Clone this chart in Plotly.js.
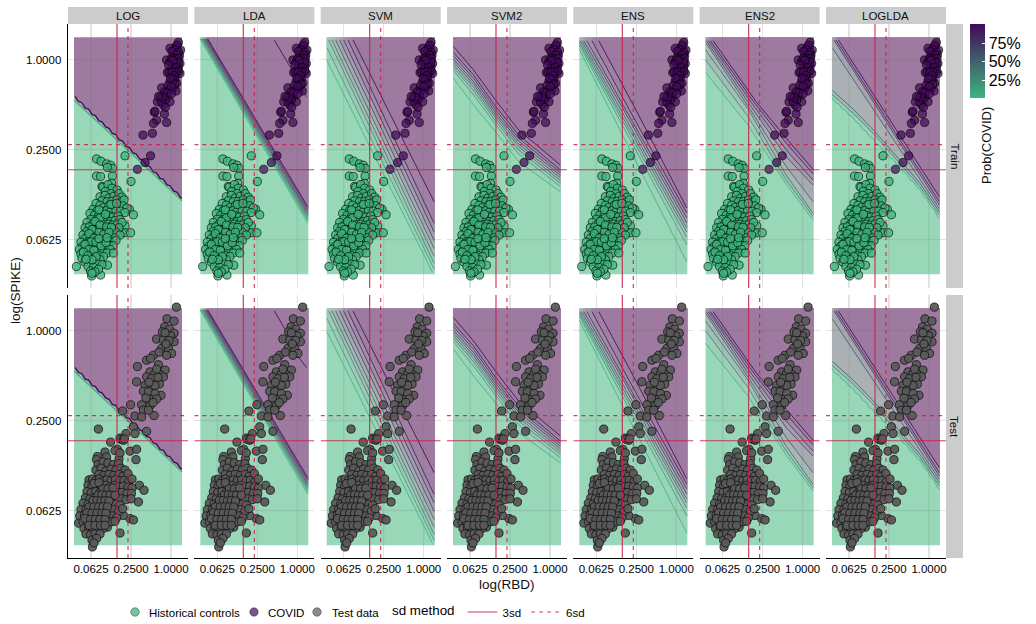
<!DOCTYPE html>
<html><head><meta charset="utf-8">
<script src="https://cdn.plot.ly/plotly-3.0.1.min.js"></script>
<style>html,body{margin:0;padding:0;background:#fff}</style></head>
<body><div id="chart" style="width:1036px;height:624px"></div>
<script>
const methodNames=['LOG','LDA','SVM','SVM2','ENS','ENS2','LOGLDA'];
const rowNames=['Train','Test'];
const tickVals=[-4,-2,0];
const tickLabels=['0.0625','0.2500','1.0000'];
const colorTicks=[0.25,0.5,0.75];
const colorTickLabels=['25%','50%','75%'];
const sd3={rbd:-2.7,spike:-2.45};
const sd6={rbd:-2.15,spike:-1.89};
const tileRbd=[-4.85,0.55];
const tileSpike=[-4.77,0.49];

const logWave=[[-4.8,-.82],[-4.63,-.93],[-4.46,-.96],[-4.29,-1.08],[-4.12,-1.1],[-3.95,-1.22],[-3.78,-1.245],[-3.61,-1.36],[-3.44,-1.39],[-3.27,-1.5],[-3.1,-1.53],[-2.93,-1.645],[-2.76,-1.67],[-2.59,-1.785],[-2.42,-1.815],[-2.25,-1.93],[-2.08,-1.955],[-1.91,-2.07],[-1.74,-2.1],[-1.57,-2.21],[-1.4,-2.24],[-1.23,-2.355],[-1.06,-2.38],[-.89,-2.495],[-.72,-2.525],[-.55,-2.64],[-.38,-2.665],[-.21,-2.78],[-.04,-2.81],[.13,-2.92],[.3,-2.95],[.47,-3.065],[.55,-3.08]];
const logLevels=[0,1];
const logContours=[[[-4.85,-.9],[.55,-3.14]],logWave];
const ldaLevels=[0,.14,.28,.43,.57,.71,.86,1];
const ldaContours=[
[[-4.87,.46],[.52,-3.64]],[[-4.81,.46],[.52,-3.58]],[[-4.76,.46],[.52,-3.53]],[[-4.7,.46],[.52,-3.48]],
[[-4.65,.46],[.52,-3.43]],[[-4.59,.46],[.52,-3.38]],[[-4.53,.46],[.52,-3.32]],[[-4.48,.46],[.52,-3.27]]];
const ldaOuterContour=[[-1.15,.433],[-.98,.3],[-.817,.174],[-.62,.02],[-.317,-.196],[-.1,-.5],[.467,-.826]];
const svmLevels=[0,.13,.25,.38,.5,.63,.75,.88,1];
const svmContours=[
[[-4.83,-.03],[.43,-4.72]],[[-4.83,.26],[.52,-4.66]],[[-4.75,.433],[.52,-4.53]],[[-4.58,.433],[.52,-4.37]],
[[-4.4,.433],[.52,-4.2]],[[-4.2,.433],[.52,-4.02]],[[-4,.433],[.52,-3.83]],[[-3.78,.433],[.52,-3.64]],[[-3.53,.433],[.52,-3.16]]];
const svm2Levels=[0,.13,.25,.38,.5,.63,.75,.88,1];
const svm2Contours=[
[[-4.82,-.419],[-3.82,-1.012],[-2.73,-1.604],[-1.57,-2.271],[.52,-2.938]],
[[-4.82,-.249],[-3.82,-.789],[-2.73,-1.441],[-1.57,-2.1],[.52,-2.826]],
[[-4.82,-.175],[-3.82,-.693],[-2.73,-1.36],[-1.57,-2.012],[.52,-2.752]],
[[-4.82,-.115],[-3.82,-.619],[-2.73,-1.293],[-1.57,-1.938],[.52,-2.693]],
[[-4.82,-.056],[-3.82,-.552],[-2.73,-1.234],[-1.57,-1.878],[.52,-2.634]],
[[-4.82,.003],[-3.82,-.493],[-2.73,-1.175],[-1.57,-1.812],[.52,-2.575]],
[[-4.82,.077],[-3.82,-.419],[-2.73,-1.108],[-1.57,-1.752],[.52,-2.515]],
[[-4.82,.151],[-3.82,-.345],[-2.73,-1.034],[-1.57,-1.678],[.52,-2.456]],
[[-4.82,.285],[-3.82,-.234],[-2.73,-.9],[-1.57,-1.567],[.52,-2.345]]];
const ensLevels=[0,.13,.25,.38,.5,.63,.75,.88,1];
const ensContours=[
[[-4.85,.226],[.52,-4.5]],[[-4.85,.32],[.52,-4.12]],[[-4.85,.38],[.52,-3.95]],[[-4.82,.42],[.52,-3.83]],
[[-4.73,.42],[-2.77,-1.12],[.52,-3.74]],[[-4.63,.42],[-2.63,-1.12],[.52,-3.63]],[[-4.48,.42],[-2.52,-1.12],[.52,-3.52]],
[[-4.22,.42],[-2.35,-1.12],[.52,-3.41]],[[-3.88,.42],[-2.02,-1.12],[.52,-3.3]]];
const ens2Levels=[0,.25,.38,.5,.63,.75,.88,1];
const ens2Contours=[
[[-4.85,-.29],[-2.73,-1.46],[-.82,-2.77],[.52,-3.57]],
[[-4.85,-.01],[-2.73,-1.27],[-.82,-2.68],[.52,-3.49]],
[[-4.85,.21],[-2.7,-1.12],[-.82,-2.57],[.52,-3.42]],
[[-4.82,.36],[-2.65,-1.09],[-.82,-2.38],[.52,-3.16]],
[[-4.82,.42],[-2.57,-1.05],[-.82,-2.16],[.52,-2.79]],
[[-4.72,.42],[-2.48,-1.01],[-.82,-2.01],[.52,-2.68]],
[[-4.62,.42],[-2.4,-.97],[-.82,-1.86],[.52,-2.54]],
[[-4.48,.42],[-2.32,-.94],[-.82,-1.75],[.52,-2.44]]];
const loglWave=[[-4.85,-.843],[-4.68,-.954],[-4.51,-.985],[-4.34,-1.097],[-4.17,-1.127],[-4,-1.24],[-3.83,-1.27],[-3.66,-1.385],[-3.49,-1.427],[-3.32,-1.55],[-3.15,-1.59],[-2.98,-1.712],[-2.81,-1.754],[-2.64,-1.873],[-2.47,-1.909],[-2.3,-2.025],[-2.13,-2.061],[-1.96,-2.178],[-1.79,-2.214],[-1.62,-2.33],[-1.45,-2.376],[-1.28,-2.501],[-1.11,-2.547],[-.94,-2.672],[-.77,-2.718],[-.6,-2.844],[-.43,-2.893],[-.26,-3.044],[-.09,-3.114],[.08,-3.265],[.25,-3.335],[.42,-3.485],[.52,-3.53]];
const loglLevels=[0,.3,.48,.52,.7,.85,1];
const loglContours=[
loglWave,
[[-4.85,-.774],[-3.78,-1.197],[-2.7,-1.678],[-1.62,-2.233],[-.45,-2.826],[.52,-3.456]],
[[-4.82,-.693],[-3.78,-1.108],[-2.7,-1.604],[-1.62,-2.159],[-.45,-2.752],[.52,-3.382]],
[[-4.82,.248],[.52,-3.31]],[[-4.75,.433],[.52,-3.234]],[[-4.65,.433],[.52,-3.16]],[[-4.53,.433],[.52,-3.05]]];
const allContours=[logContours,ldaContours,svmContours,svm2Contours,ensContours,ens2Contours,loglContours];
const allLevels=[logLevels,ldaLevels,svmLevels,svm2Levels,ensLevels,ens2Levels,loglLevels];

const covidPoints=[[.37,.38],[.25,.28],[-.05,.25],[.48,.21],[.12,.14],[.42,.1],[-.22,-.01],[.12,.06],[.28,-.01],[-.05,-.05],[.45,-.09],[.12,-.12],[.03,-.2],[.37,-.16],[-.18,-.29],[.12,-.29],[.45,-.31],[.03,-.33],[.28,-.27],[-.05,-.49],[.28,-.53],[.2,-.42],[-.47,-.63],[-.13,-.68],[.12,-.63],[.25,-.7],[-.18,-.83],[-.52,-.83],[-.68,-.94],[-.38,-1.01],[-.05,-.94],[-.3,-.9],[-.47,-.94],[-.83,-1.17],[-.8,-1.15],[-.33,-1.21],[-.72,-1.35],[-.88,-1.42],[-.22,-1.4],[-.93,-1.64],[-1.4,-1.68],[-1.02,-2.14],[-1.3,-2.29],[-1.68,-2.44],
[.3,.32],[.18,.22],[.38,.16],[.05,.18],[.3,.1],[.2,.02],[.4,.02],[.02,.02],[.22,-.08],[.36,-.06],[.1,-.02],[-.12,-.12],[.25,-.18],[.38,-.26],[.2,-.28],[-.1,-.28],[.05,-.28],[.15,-.36],[.1,-.44],[-.02,-.42],[-.15,-.58],[.18,-.55],[.02,-.6],[-.32,-.72],[-.2,-.74],[.02,-.76],[-.42,-.84],[-.62,-.82],[-.28,-1.06]];
const controlPoints=[[-2.3,-2.14],[-2,-2.71],[-3.72,-2.21],[-3.5,-2.26],[-3.22,-2.32],[-3.02,-2.35],[-2.92,-2.42],[-3.18,-2.4],[-3.72,-2.59],[-3.52,-2.6],[-2.93,-2.59],[-2.97,-2.75],[-3.45,-2.82],[-2.08,-3.33],[-1.88,-3.45],[-2.3,-3.7],[-2.47,-3.85],[-2.3,-3.85],[-2.02,-3.85],[-3.18,-4.57],[-3.52,-4.79],[-3.97,-4.81],[-4.73,-4.6],
[-3.4,-2.84],[-3.15,-2.78],[-2.95,-2.86],[-2.7,-2.9],[-3.28,-2.93],[-3.02,-2.98],
[-3.55,-3.05],[-3.3,-3.02],[-3.1,-3.08],[-2.85,-3.04],[-2.6,-2.98],[-2.45,-3.06],[-3.45,-3.14],[-3.2,-3.16],[-2.95,-3.15],[-2.7,-3.12],[-2.5,-3.17],[-2.35,-3.12],
[-3.75,-3.2],[-3.55,-3.24],[-3.35,-3.28],[-3.1,-3.25],[-2.85,-3.26],[-2.62,-3.27],[-2.4,-3.25],[-2.2,-3.3],[-3.9,-3.33],[-3.7,-3.36],[-3.45,-3.38],[-3.22,-3.36],[-3,-3.38],[-2.75,-3.35],[-2.52,-3.37],[-2.3,-3.4],
[-4.05,-3.42],[-3.82,-3.46],[-3.6,-3.47],[-3.35,-3.5],[-3.12,-3.47],[-2.9,-3.5],[-2.65,-3.48],[-4,-3.55],[-3.72,-3.56],[-3.48,-3.58],[-3.25,-3.57],[-3.02,-3.6],[-2.8,-3.58],[-2.55,-3.56],[-4.2,-3.62],[-3.92,-3.66],[-3.66,-3.64],[-3.4,-3.67],[-3.15,-3.66],[-2.92,-3.68],[-2.68,-3.66],[-2.45,-3.62],
[-4.3,-3.74],[-4.08,-3.72],[-3.85,-3.76],[-3.6,-3.72],[-3.35,-3.76],[-3.1,-3.74],[-2.85,-3.77],[-2.6,-3.74],[-4.2,-3.82],[-3.96,-3.84],[-3.72,-3.8],[-3.48,-3.84],[-3.22,-3.83],[-3,-3.86],[-2.75,-3.84],[-2.55,-3.9],
[-4.4,-3.9],[-4.16,-3.93],[-3.9,-3.92],[-3.62,-3.94],[-3.38,-3.92],[-3.12,-3.94],[-2.88,-3.96],[-4.3,-3.98],[-4.05,-4],[-3.78,-4.02],[-3.52,-4],[-3.26,-4.03],[-3,-4.04],[-2.75,-4.02],
[-4.5,-4.06],[-4.24,-4.08],[-3.98,-4.1],[-3.7,-4.1],[-3.42,-4.1],[-3.15,-4.12],[-2.9,-4.14],[-4.42,-4.15],[-4.16,-4.17],[-3.88,-4.18],[-3.6,-4.18],[-3.32,-4.2],[-3.05,-4.22],
[-4.58,-4.22],[-4.32,-4.24],[-4.06,-4.26],[-3.76,-4.26],[-3.48,-4.27],[-3.2,-4.3],[-2.88,-4.3],[-4.5,-4.32],[-4.22,-4.33],[-3.95,-4.34],[-3.65,-4.35],[-3.38,-4.38],
[-4.45,-4.42],[-4.15,-4.42],[-3.85,-4.43],[-3.55,-4.45],[-4.3,-4.5],[-4.02,-4.5],[-3.72,-4.52],[-3.45,-4.56],[-4.15,-4.6],[-3.88,-4.62],[-3.62,-4.66],[-4.02,-4.7],[-3.8,-4.72],[-3.95,-4.75],
[-3.6,-3.34],[-3,-3.22],[-2.72,-3.2],[-3.55,-3.52],[-3.28,-3.44],[-3.8,-3.6],[-3.55,-3.68],[-3.22,-3.72],[-2.98,-3.73],[-3.95,-3.78],[-3.6,-3.84],[-3.35,-3.88],[-3.1,-3.84],[-4.1,-3.87],[-3.85,-3.97],[-4,-4.05],[-3.75,-4.06],[-3.5,-4.14],[-3.25,-4.07],[-4.3,-4.11],[-4.1,-4.22],[-3.85,-4.24],[-4.38,-4.28],[-4.15,-4.36],[-3.75,-4.38],[-3.95,-4.45],[-4.25,-4.44],[-3.6,-3.98],[-3.2,-3.96]];
const testPoints=[[.27,.52],[-.2,.26],[.15,.21],[-.32,.08],[-.08,.03],[-.43,-.03],[.15,-.06],[-.22,-.09],[-.02,-.12],[-.72,-.19],[-.38,-.21],[.15,-.25],[-.47,-.4],[-.13,-.4],[-.88,-.55],[.03,-.51],[-1.22,-.66],[-1.02,-.62],[-.22,-.55],[-.63,-.76],[-1.68,-.8],[-.3,-.88],[-1.05,-.92],[-.8,-.96],[-.55,-.98],[-1.22,-1.03],[-.97,-1.07],[-.38,-1.03],[-1.72,-1.14],[-.58,-1.19],[-1.3,-1.22],[-.97,-1.27],[-1.38,-1.35],[-1.13,-1.36],[-.5,-1.44],[-.8,-1.4],[-1.05,-1.53],[-1.47,-1.65],[-1.05,-1.67],[-2.02,-1.65],[-1.38,-1.77],[-2.42,-1.79],[-1.8,-1.9],[-1.47,-1.92],[-.85,-1.89],[-1.13,-1.77],
[-.3,-.05],[-.1,-.22],[-.25,-.3],[-.6,-.48],[-.72,-.86],[-.65,-1.04],[-.8,-1.22],[-1.1,-1.15],[-.72,-1.52],[-.9,-1.6],[-1.25,-1.5],
[-1.88,-2.14],[-1.22,-2.24],[-1.8,-2.29],[-2.25,-2.29],[-2.55,-2.39],[-3.63,-2.19],[-2.5,-2.42],[-3.02,-2.48],[-2.68,-2.64],[-2.05,-2.68],[-1.72,-2.64],[-1.75,-2.87],[-2.38,-2.44],[-2.33,-2.41],[-2.8,-2.67],[-3.3,-2.7],[-3.68,-2.8],[-3.72,-2.87],[-3.22,-2.81],[-2.6,-2.85],[-2.55,-2.72],[-1.58,-3.44],[-1.35,-3.55],[-1.63,-3.81],[-2.05,-4.18],[-1.88,-4.21],[-2.55,-4.5],[-2.38,-4.11],[-3.18,-4.37],[-3.93,-4.81],
[-3.65,-2.98],[-3.4,-2.92],[-3.15,-2.94],[-2.9,-2.98],[-2.62,-2.96],
[-3.75,-3.1],[-3.5,-3.06],[-3.25,-3.12],[-3,-3.08],[-2.75,-3.1],[-2.5,-3.06],[-2.3,-3.1],[-3.6,-3.2],[-3.35,-3.22],[-3.1,-3.2],[-2.85,-3.22],[-2.6,-3.2],[-2.4,-3.24],[-2.15,-3.18],
[-4.1,-3.32],[-3.92,-3.3],[-3.75,-3.33],[-3.58,-3.3],[-3.4,-3.34],[-3.2,-3.32],[-3,-3.34],[-2.78,-3.32],[-2.55,-3.34],[-2.35,-3.33],[-2.12,-3.36],[-1.95,-3.3],
[-4.15,-3.44],[-3.95,-3.46],[-3.72,-3.44],[-3.5,-3.46],[-3.28,-3.44],[-3.05,-3.47],[-2.82,-3.44],[-2.6,-3.47],[-2.38,-3.46],[-2.15,-3.48],[-1.95,-3.5],
[-4.2,-3.58],[-3.98,-3.6],[-3.76,-3.58],[-3.55,-3.6],[-3.32,-3.58],[-3.1,-3.6],[-2.88,-3.58],[-2.66,-3.6],[-2.44,-3.6],[-2.2,-3.62],[-1.98,-3.62],
[-4.28,-3.72],[-4.05,-3.74],[-3.82,-3.72],[-3.6,-3.74],[-3.38,-3.72],[-3.16,-3.74],[-2.94,-3.72],[-2.72,-3.74],[-2.5,-3.74],[-2.25,-3.76],[-2,-3.74],
[-4.4,-3.84],[-4.15,-3.86],[-3.92,-3.84],[-3.7,-3.86],[-3.46,-3.84],[-3.22,-3.86],[-3,-3.84],[-2.78,-3.86],[-2.55,-3.88],
[-4.5,-3.98],[-4.25,-3.98],[-4.02,-4],[-3.78,-3.98],[-3.55,-4],[-3.3,-3.98],[-3.08,-4],[-2.85,-3.98],[-2.62,-4.02],[-2.42,-3.96],
[-4.56,-4.12],[-4.32,-4.1],[-4.1,-4.13],[-3.86,-4.12],[-3.62,-4.14],[-3.38,-4.12],[-3.15,-4.14],[-2.92,-4.12],[-2.72,-4.16],
[-4.62,-4.28],[-4.4,-4.25],[-4.18,-4.27],[-3.94,-4.25],[-3.7,-4.27],[-3.46,-4.25],[-3.22,-4.27],[-3,-4.25],[-2.8,-4.24],
[-4.35,-4.4],[-4.12,-4.4],[-3.88,-4.42],[-3.64,-4.38],[-3.4,-4.4],[-4.25,-4.52],[-4.02,-4.54],[-3.8,-4.52],[-3.55,-4.52],[-3.95,-4.66],[-3.72,-4.62],[-3.85,-4.72],
[-3.85,-3.4],[-3.6,-3.38],[-3.4,-3.52],[-3.15,-3.52],[-2.9,-3.5],[-3.65,-3.66],[-3.45,-3.65],[-3.25,-3.66],[-3.05,-3.66],[-2.8,-3.66],[-3.9,-3.78],[-3.7,-3.78],[-3.5,-3.79],[-3.3,-3.78],[-3.1,-3.79],[-4.1,-3.92],[-3.85,-3.92],[-3.62,-3.92],[-3.4,-3.92],[-3.18,-3.92],[-4.2,-4.05],[-3.95,-4.06],[-3.7,-4.06],[-3.45,-4.06],[-3.25,-4.06],[-4.3,-4.18],[-4.02,-4.2],[-3.78,-4.2],[-3.55,-4.2],[-3.3,-4.2],[-4.1,-4.33],[-3.8,-4.33],[-3.52,-4.33],[-3.3,-4.33]];

const W=1036,H=624,panelLeft=68,panelStep=126.33,panelWidth=120,pxPerY=45;
const rowTop=[24,295],rowBottom=[288,558];
const RED='rgba(200,30,70,0.85)';
const GREEN=[61,181,126],PURPLE=[68,10,90];
const TILE_G=[152,216,184],TILE_M=[170,177,180],TILE_P=[158,122,160];
const mix=(a,b,t)=>a.map((v,i)=>Math.round(v+(b[i]-v)*t));
const css=c=>`rgb(${c[0]},${c[1]},${c[2]})`;
const lineColor=t=>css(mix(GREEN,PURPLE,t));
const tileColor=t=>css(t<.5?mix(TILE_G,TILE_M,t*2):mix(TILE_M,TILE_P,(t-.5)*2));
const xs=p=>p.map(d=>d[0]),ys=p=>p.map(d=>d[1]);

function regionAbove(line){
  const [x0,x1]=tileRbd,[y0,y1]=tileSpike,pts=line.slice();
  const last=pts[pts.length-1],first=pts[0];
  if(last[0]<x1-.05){pts.push([last[0],y0],[x1,y0]);}else{pts.push([x1,last[1]]);}
  pts.push([x1,y1]);
  if(first[0]>x0+.05||first[1]>y1-.1){pts.push([first[0],y1]);}
  else{pts.push([x0,y1],[x0,first[1]]);}
  return pts;
}
const note=(x,y,text,size,extra)=>({xref:'paper',yref:'paper',x:x/W,y:1-y/H,xanchor:'center',yanchor:'middle',text,showarrow:false,font:{size,color:'#111'},...extra});

const traces=[],layout={width:W,height:H,margin:{l:0,r:0,t:0,b:0,autoexpand:false},paper_bgcolor:'#fff',plot_bgcolor:'#fff',
  font:{family:'Liberation Sans, Arial, sans-serif',color:'#000',size:11.5},shapes:[],annotations:[],
  legend:{orientation:'h',x:120/W,y:1-612/H,yanchor:'middle',xanchor:'left',font:{size:11.5},bgcolor:'rgba(0,0,0,0)',itemwidth:30,itemclick:false},
  legend2:{orientation:'h',x:390/W,y:1-612/H,yanchor:'middle',xanchor:'left',font:{size:11.5},bgcolor:'rgba(0,0,0,0)',itemwidth:30,itemclick:false,
    title:{text:'sd method',side:'left',font:{size:13.4}}}
};

rowNames.forEach((rowName,r)=>{
  methodNames.forEach((name,c)=>{
    const n=r*7+c+1,sfx=n===1?'':String(n),xa='x'+sfx,ya='y'+sfx;
    const left=panelLeft+panelStep*c,top=rowTop[r],bot=rowBottom[r];
    layout['xaxis'+sfx]={domain:[left/W,(left+panelWidth)/W],range:[-5.15,.85],anchor:ya,tickvals:tickVals,ticktext:tickLabels,
      showticklabels:r===1,ticks:'',showgrid:true,gridcolor:'#e2e2e2',gridwidth:1.4,zeroline:false,
      showline:r===1,linecolor:'#000',linewidth:1.4,fixedrange:true,tickfont:{size:11.5}};
    const yt=.789,yb=yt-(bot-top)/pxPerY;
    layout['yaxis'+sfx]={domain:[1-bot/H,1-top/H],range:[yb,yt],anchor:xa,tickvals:tickVals,ticktext:tickLabels,
      showticklabels:c===0,ticks:c===0?'outside':'',ticklen:3,tickcolor:'rgba(0,0,0,0)',showgrid:true,gridcolor:'#e2e2e2',gridwidth:1.4,zeroline:false,
      showline:c===0,linecolor:'#000',linewidth:1.4,fixedrange:true,tickfont:{size:11.5}};

    const base={xaxis:xa,yaxis:ya,showlegend:false,hoverinfo:'skip'};
    const contours=allContours[c],levels=allLevels[c];
    const [tx0,tx1]=tileRbd,[ty0,ty1]=tileSpike;
    traces.push({...base,x:[tx0,tx1,tx1,tx0],y:[ty0,ty0,ty1,ty1],mode:'lines',fill:'toself',fillcolor:tileColor(0),line:{width:0}});
    contours.forEach((line,i)=>{
      const t=i<levels.length-1?(levels[i]+levels[i+1])/2:1;
      const poly=regionAbove(line);
      traces.push({...base,x:xs(poly),y:ys(poly),mode:'lines',fill:'toself',fillcolor:tileColor(t),line:{width:0}});
    });
    tickVals.forEach(v=>{
      traces.push({...base,x:[v,v],y:[ty0,ty1],mode:'lines',line:{color:'rgba(110,110,110,0.16)',width:1.4}});
      traces.push({...base,x:[tx0,tx1],y:[v,v],mode:'lines',line:{color:'rgba(110,110,110,0.16)',width:1.4}});
    });
    contours.forEach((line,i)=>{
      traces.push({...base,x:xs(line),y:ys(line),mode:'lines',line:{color:lineColor(levels[i]),width:c===0?1.4:.85}});
    });
    if(c===1) traces.push({...base,x:xs(ldaOuterContour),y:ys(ldaOuterContour),mode:'lines',line:{color:lineColor(1),width:.85}});

    if(r===0){
      traces.push({...base,x:xs(controlPoints),y:ys(controlPoints),mode:'markers',marker:{size:8.2,color:'rgba(61,181,126,0.78)',line:{color:'rgba(0,0,0,0.8)',width:.8}}});
      traces.push({...base,x:xs(covidPoints),y:ys(covidPoints),mode:'markers',marker:{size:8.2,color:'rgba(68,10,90,0.72)',line:{color:'rgba(0,0,0,0.8)',width:.8}}});
    }else{
      traces.push({...base,x:xs(testPoints),y:ys(testPoints),mode:'markers',marker:{size:8.2,color:'rgba(90,90,90,0.95)',line:{color:'rgba(20,20,20,0.9)',width:.9}}});
    }
    const R=layout['xaxis'+sfx].range,Y=layout['yaxis'+sfx].range;
    traces.push({...base,x:[sd3.rbd,sd3.rbd],y:Y,mode:'lines',line:{color:RED,width:1.2}});
    traces.push({...base,x:[sd6.rbd,sd6.rbd],y:Y,mode:'lines',line:{color:RED,width:1.2,dash:'4px,4px'}});
    traces.push({...base,x:R,y:[sd3.spike,sd3.spike],mode:'lines',line:{color:RED,width:1.2}});
    traces.push({...base,x:R,y:[sd6.spike,sd6.spike],mode:'lines',line:{color:RED,width:1.2,dash:'4px,4px'}});

    if(r===0){
      layout.shapes.push({type:'rect',xref:'paper',yref:'paper',x0:left/W,x1:(left+panelWidth)/W,y0:1-24/H,y1:1-7/H,fillcolor:'#cccccc',line:{width:0}});
      layout.annotations.push(note(left+panelWidth/2,15.5,name,11.5));
    }
  });
  layout.shapes.push({type:'rect',xref:'paper',yref:'paper',x0:946/W,x1:963/W,y0:1-rowBottom[r]/H,y1:1-rowTop[r]/H,fillcolor:'#cccccc',line:{width:0}});
  layout.annotations.push(note(954.5,(rowTop[r]+rowBottom[r])/2,rowName,11.5,{textangle:90}));
});

layout.annotations.push(note(507,584,'log(RBD)',13.5));
layout.annotations.push(note(15,291,'log(SPIKE)',13.5,{textangle:-90}));
layout.annotations.push(note(986,146,'Prob(COVID)',13,{textangle:-90}));

const legendKey=(name,color)=>({x:[null],y:[null],mode:'markers',name,legend:'legend',marker:{size:8.5,color,line:{color:'rgba(0,0,0,0.6)',width:.6}}});
traces.push(legendKey('Historical controls','rgba(61,181,126,0.75)'));
traces.push(legendKey('COVID','rgba(68,10,90,0.7)'));
traces.push(legendKey('Test data','rgba(90,90,90,0.7)'));
traces.push({x:[null],y:[null],mode:'lines',name:'3sd',legend:'legend2',line:{color:RED,width:1.2}});
traces.push({x:[null],y:[null],mode:'lines',name:'6sd',legend:'legend2',line:{color:RED,width:1.2,dash:'4px,4px'}});
traces.push({x:[null],y:[null],mode:'markers',showlegend:false,hoverinfo:'skip',marker:{color:[0],cmin:0,cmax:1,
  colorscale:[[0,css(GREEN)],[1,css(PURPLE)]],showscale:true,
  colorbar:{x:970/W,xanchor:'left',xpad:0,ypad:0,y:1-98.5/H,yanchor:'bottom',lenmode:'pixels',len:74,thicknessmode:'pixels',thickness:15,
    tickvals:colorTicks,ticktext:colorTickLabels,ticks:'inside',ticklen:3,tickcolor:'#fff',tickwidth:1,outlinewidth:0,tickfont:{size:16}}}});

// legend key/label spacing as in the reference (plotly's keys are wider by default)
const legendSpacing={'Historical controls':[135,149],'COVID':[254,268],'Test data':[317,332],'3sd':[463,483],'6sd':[510,529]};
Plotly.newPlot('chart',traces,layout,{displayModeBar:false,staticPlot:true}).then(gd=>{
  gd.querySelectorAll('.legend .traces, .legend2 .traces').forEach(el=>{
    const label=el.querySelector('.legendtext');
    if(!label) return;
    const spec=legendSpacing[label.textContent];
    if(!spec) return;
    const lineKey=el.querySelector('.legendlines path');
    const origin=el.parentNode.getCTM().e;
    const y=(el.getAttribute('transform').match(/,\s*([-\d.]+)/)||[0,0])[1];
    const tx=spec[0]-(lineKey?5:20)-origin;
    el.setAttribute('transform',`translate(${tx},${y})`);
    label.setAttribute('x',spec[1]-(tx+origin));
    if(lineKey) lineKey.setAttribute('d','M5,0h12');
    const box=el.closest('.scrollbox'); if(box) box.removeAttribute('clip-path');
  });
});
</script></body></html>
